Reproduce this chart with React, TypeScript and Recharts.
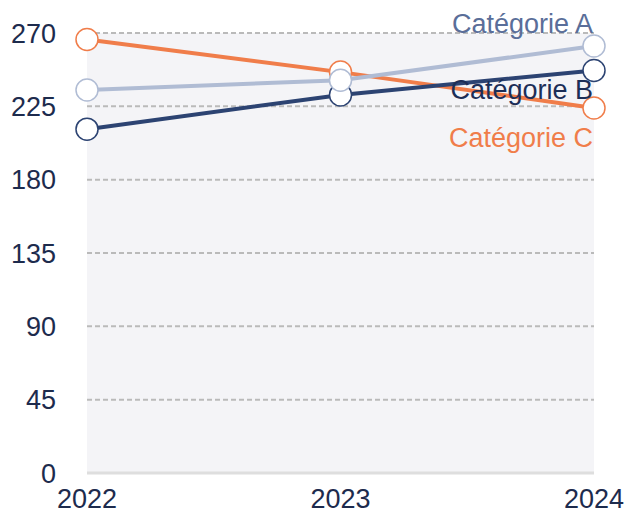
import React from "react";
import { LineChart, Line, XAxis, YAxis, CartesianGrid, LabelList } from "recharts";

const years = ["2022", "2023", "2024"];
const categorieA = [235, 241, 262];
const categorieB = [211, 232, 247];
const categorieC = [266, 246, 224];
const yTicks = [0, 45, 90, 135, 180, 225, 270];

const data = years.map((y, i) => ({
  year: y,
  A: categorieA[i],
  B: categorieB[i],
  C: categorieC[i],
}));

const FONT = "'Liberation Sans', Arial, Helvetica, sans-serif";

const makeLabel = (text: string, color: string, dy: number) => (props: any) => {
  const { x, y, index } = props;
  if (index !== years.length - 1) return null;
  return (
    <text
      x={x - 1}
      y={y + dy}
      textAnchor="end"
      fill={color}
      fontSize={27}
      fontFamily={FONT}
    >
      {text}
    </text>
  );
};

const dot = (color: string) => ({ r: 11, fill: "#ffffff", stroke: color, strokeWidth: 1.5 });

export default function App() {
  return (
    <div style={{ position: "absolute", left: 0, top: 0 }}>
      <LineChart
        width={627}
        height={515}
        data={data}
        margin={{ top: 33, right: 33, bottom: 12, left: 0 }}
      >
        <CartesianGrid
          vertical={false}
          horizontalValues={[45, 90, 135, 180, 225, 270]}
          stroke="#bababa"
          strokeWidth={2}
          strokeDasharray="5 3"
          fill="#f4f4f7"
        />
        <XAxis
          dataKey="year"
          height={30}
          padding={{ left: 0, right: 0 }}
          axisLine={{ stroke: "#dedede", strokeWidth: 3 }}
          tickLine={false}
          tickSize={0}
          tickMargin={16}
          tick={{ fill: "#1d2b4d", fontSize: 27, fontFamily: FONT }}
          interval={0}
        />
        <YAxis
          domain={[0, 270]}
          ticks={yTicks}
          width={87}
          axisLine={false}
          tickLine={false}
          tickSize={0}
          tickMargin={31}
          tick={{ fill: "#1d2b4d", fontSize: 27, fontFamily: FONT }}
          interval={0}
        />
        <Line
          dataKey="C"
          stroke="#f07d4a"
          strokeWidth={4}
          dot={dot("#f07d4a")}
          activeDot={false}
          isAnimationActive={false}
        >
          <LabelList content={makeLabel("Catégorie C", "#f07d4a", 39)} />
        </Line>
        <Line
          dataKey="B"
          stroke="#2c4372"
          strokeWidth={4}
          dot={dot("#2c4372")}
          activeDot={false}
          isAnimationActive={false}
        >
          <LabelList content={makeLabel("Catégorie B", "#1c2e57", 29)} />
        </Line>
        <Line
          dataKey="A"
          stroke="#b0bcd4"
          strokeWidth={4}
          dot={dot("#b0bcd4")}
          activeDot={false}
          isAnimationActive={false}
        >
          <LabelList content={makeLabel("Catégorie A", "#5a6e99", -13)} />
        </Line>
      </LineChart>
    </div>
  );
}
